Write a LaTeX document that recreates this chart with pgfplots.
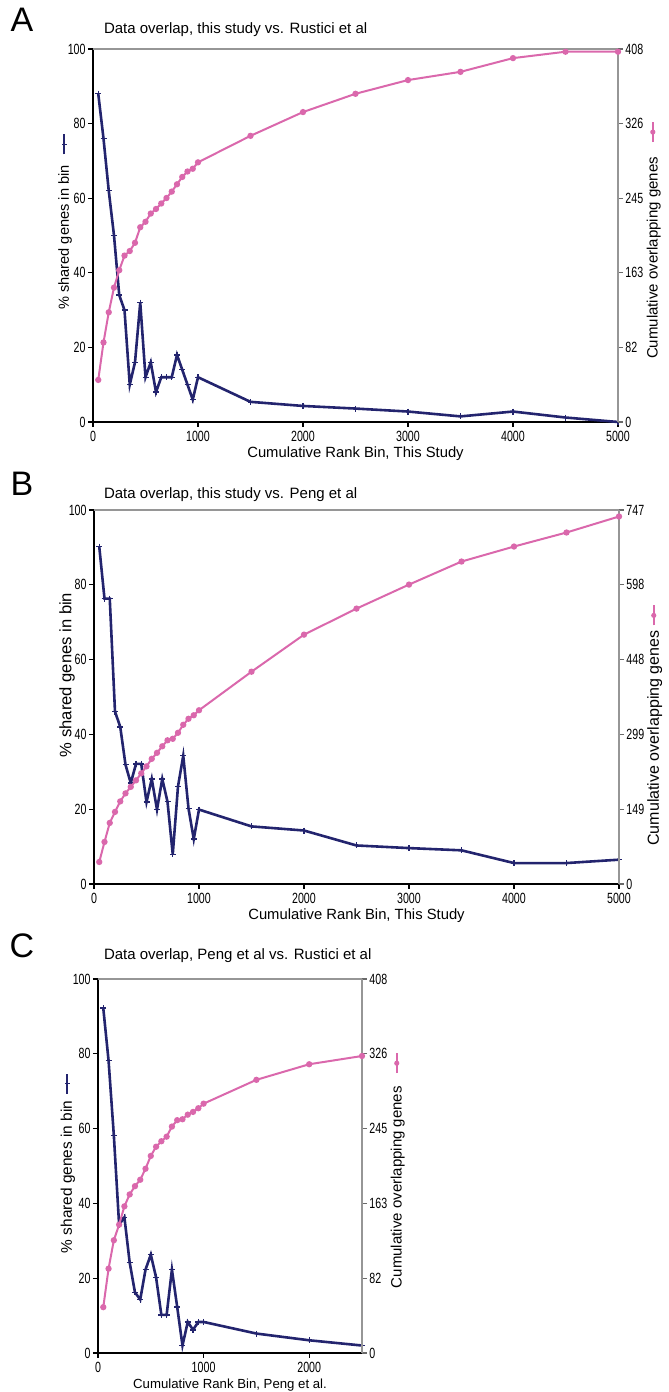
\documentclass[border=0pt]{standalone}
\usepackage{fontspec}
\setmainfont{Liberation Sans}
\newfontfamily\narrowfont{Liberation Sans}[FakeStretch=0.72]
\usepackage{pgfplots}
\pgfplotsset{compat=1.18}
\definecolor{navy}{RGB}{35,36,110}
\definecolor{pinkc}{RGB}{218,104,172}
\definecolor{axgray}{RGB}{150,150,150}
\newcommand{\navyglyph}{\tikz[baseline=-0.6ex]{\draw[navy,line width=1pt] (0,0)--(10pt,0); \draw[navy,line width=0.6pt] (5pt,-1.3pt)--(5pt,1.3pt);}}
\newcommand{\pinkglyph}{\tikz[baseline=-0.6ex]{\draw[pinkc,line width=1pt] (0,0)--(10pt,0); \fill[pinkc] (5pt,0) circle (1.3pt);}}
\newcommand{\fs}[1]{\fontsize{#1}{#1}\selectfont}

\pgfplotsset{
 common/.style={scale only axis, clip=false, tick align=outside, major tick length=2.5pt,
   ticklabel style={font=\narrowfont\fs{7.4}, inner sep=1.5pt}, /pgf/number format/assume math mode=true,
   /pgf/number format/1000 sep={}},
 leftax/.style={common, axis x line*=bottom, axis y line*=left,
   axis line style={black, line width=1pt}, tick style={black, line width=0.6pt},
   ymin=0, ymax=100, ytick={0,20,...,100},
   xticklabel style={yshift=-0.5pt}, yticklabel style={xshift=0.5pt},
   ylabel style={anchor=center}},
 rightax/.style={common, axis x line*=top, axis y line*=right,
   axis line style={axgray, line width=1pt}, tick style={axgray!70!black, line width=0.6pt},
   xtick=\empty, ymin=0, ylabel style={anchor=center}, yticklabel style={xshift=-0.5pt}},
 navyplot/.style={navy, line width=1.3pt, mark=+, mark size=1.5pt, mark options={line width=0.7pt}},
 pinkplot/.style={pinkc, line width=1pt, mark=*, mark size=1.05pt},
}

\pgfplotstableread{
x    pct   cum
50   88    46
100  76    87
150  62    120
200  50    147
250  34    166
300  30    182
350  10    187
400  16    196
450  32    213
500  12    219
550  16    228
600  8     233
650  12    239
700  12    245
750  12    252
800  18    260
850  14    268
900  10    274
950  6     277
1000 12    284
1500 5.4   313
2000 4.3   339
2500 3.6   359
3000 2.8   374
3500 1.5   383
4000 2.8   398
4500 1.2   405
5000 0     405
}\dataA

\pgfplotstableread{
x    pct   cum
50   90.2  44
100  76.3  84
150  76.3  122
200  46.1  144
250  42    165
300  31.9  181
350  27    194
400  32.1  207
450  32.1  221
500  21.9  235
550  28.1  250
600  19.9  262
650  28.1  275
700  22    287
750  7.9   290
800  26.1  302
850  34.3  318
900  20.2  330
950  12    337
1000 19.9  347
1500 15.4  424
2000 14.3  498
2500 10.3  550
3000 9.6   598
3500 9     644
4000 5.6   674
4500 5.6   702
5000 6.5   734
}\dataB

\pgfplotstableread{
x    pct   cum
50   92.2  50
100  78.2  92
150  58.2  123
200  34.3  140
250  36.3  160
300  24.2  173
350  16.2  182
400  14.3  189
450  22.3  201
500  26.3  215
550  20.2  225
600  10.2  231
650  10.2  236
700  22.3  247
750  12.3  254
800  2     255
850  8.3   260
900  6.2   263
950  8.3   267
1000 8.3   272
1500 5.2   298
2000 3.4   315
2500 2     324
}\dataC

\begin{document}
\begin{tikzpicture}
\path[use as bounding box] (0,0) rectangle (334.5pt,696pt);

% ---------------- Panel A ----------------
\node[font=\fs{17}] at (11pt,686pt) {A};
\node[font=\fs{7.5}, anchor=base west] at (48.5pt,679pt) {Data overlap, this study vs. Rustici et al};
\begin{axis}[leftax, at={(46.5pt,485pt)}, anchor=south west, width=262.5pt, height=186.5pt,
  xmin=0, xmax=5000, xtick={0,1000,...,5000},
  xlabel={Cumulative Rank Bin, This Study},
  xlabel style={font=\fs{7.4}, at={(axis description cs:0.5,0)}, anchor=center, yshift=-16pt},
  ylabel={\fs{7.3}\% shared genes in bin\hspace{5pt}\navyglyph},
  ylabel style={at={(axis description cs:-0.0533,0.5375)}}]
\addplot[navyplot] table[x=x,y=pct] {\dataA};
\end{axis}
\begin{axis}[rightax, at={(46.5pt,485pt)}, anchor=south west, width=262.5pt, height=186.5pt,
  xmin=0, xmax=5000, ymax=408,
  ytick={0,81.6,163.2,244.8,326.4,408}, yticklabels={0,82,163,245,326,408},
  ylabel={\fs{7.5}Cumulative overlapping genes\hspace{7pt}\pinkglyph},
  ylabel style={at={(axis description cs:1.068,0.488)}}]
\addplot[pinkplot] table[x=x,y=cum] {\dataA};
\end{axis}

% ---------------- Panel B ----------------
\node[font=\fs{17}] at (11pt,454pt) {B};
\node[font=\fs{7.5}, anchor=base west] at (48.5pt,446.5pt) {Data overlap, this study vs. Peng et al};
\begin{axis}[leftax, at={(47pt,254pt)}, anchor=south west, width=262.5pt, height=187pt,
  xmin=0, xmax=5000, xtick={0,1000,...,5000},
  xlabel={Cumulative Rank Bin, This Study},
  xlabel style={font=\fs{7.4}, at={(axis description cs:0.5,0)}, anchor=center, yshift=-16pt},
  ylabel={\fs{8.3}\% shared genes in bin},
  ylabel style={at={(axis description cs:-0.0514,0.559)}}]
\addplot[navyplot] table[x=x,y=pct] {\dataB};
\end{axis}
\begin{axis}[rightax, at={(47pt,254pt)}, anchor=south west, width=262.5pt, height=187pt,
  xmin=0, xmax=5000, ymax=747,
  ytick={0,149.4,298.8,448.2,597.6,747}, yticklabels={0,149,299,448,598,747},
  ylabel={\fs{8}Cumulative overlapping genes\hspace{2pt}\pinkglyph},
  ylabel style={at={(axis description cs:1.068,0.425)}}]
\addplot[pinkplot] table[x=x,y=cum] {\dataB};
\end{axis}

% ---------------- Panel C ----------------
\node[font=\fs{17}] at (11pt,223pt) {C};
\node[font=\fs{7.5}, anchor=base west] at (48.5pt,216pt) {Data overlap, Peng et al vs. Rustici et al};
\begin{axis}[leftax, at={(49pt,19.5pt)}, anchor=south west, width=132pt, height=187pt,
  xmin=0, xmax=2500, xtick={0,1000,2000},
  xlabel={Cumulative Rank Bin, Peng et al.},
  xlabel style={font=\fs{6.6}, at={(axis description cs:0.5,0)}, anchor=center, yshift=-16pt},
  ylabel={\fs{7.7}\% shared genes in bin\hspace{3pt}\navyglyph},
  ylabel style={at={(axis description cs:-0.1136,0.508)}}]
\addplot[navyplot] table[x=x,y=pct] {\dataC};
\end{axis}
\begin{axis}[rightax, at={(49pt,19.5pt)}, anchor=south west, width=132pt, height=187pt,
  xmin=0, xmax=2500, ymax=408,
  ytick={0,81.6,163.2,244.8,326.4,408}, yticklabels={0,82,163,245,326,408},
  ylabel={\fs{7.5}Cumulative overlapping genes\hspace{6pt}\pinkglyph},
  ylabel style={at={(axis description cs:1.135,0.489)}}]
\addplot[pinkplot] table[x=x,y=cum] {\dataC};
\end{axis}
\end{tikzpicture}
\end{document}
